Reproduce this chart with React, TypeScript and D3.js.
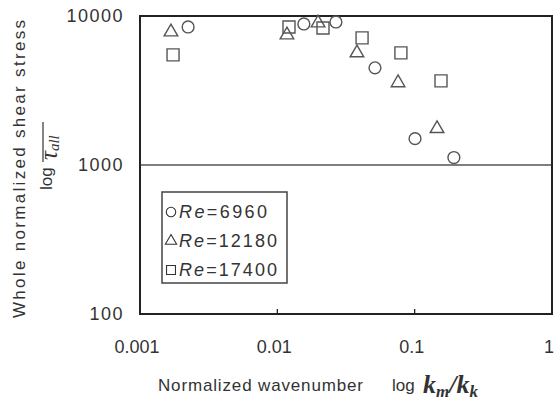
import React from 'react';
import * as d3 from 'd3';

// values (log-log axes)
const re6960X = [0.00224, 0.0156, 0.0267, 0.0514, 0.1006, 0.193];
const re6960Y = [8440, 8840, 9120, 4490, 1503, 1122];

const re12180X = [0.00168, 0.01175, 0.0198, 0.038, 0.0757, 0.1455];
const re12180Y = [7820, 7460, 8980, 5655, 3563, 1754];

const re17400X = [0.00174, 0.01216, 0.0215, 0.0414, 0.0794, 0.1555];
const re17400Y = [5483, 8440, 8310, 7130, 5655, 3672];

const xTicks = [0.001, 0.01, 0.1, 1];
const xTickLabels = ['0.001', '0.01', '0.1', '1'];
const yTicks = [100, 1000, 10000];
const yTickLabels = ['100', '1000', '10000'];
const legendLabels = ['6960', '12180', '17400'];

const W = 554, H = 408;
const left = 140, right = 552, top = 16, bottom = 314;
const ink = '#333';
const markInk = '#555';

const App = () => {
  const x = d3.scaleLog().domain([0.001, 1]).range([left, right]);
  const y = d3.scaleLog().domain([100, 10000]).range([bottom, top]);

  const circle = d3.symbol().type(d3.symbolCircle).size(110)();
  const tri = d3.symbol().type(d3.symbolTriangle).size(80)();
  const square = d3.symbol().type(d3.symbolSquare).size(144)();

  const series = [
    { xs: re6960X, ys: re6960Y, path: circle },
    { xs: re12180X, ys: re12180Y, path: tri },
    { xs: re17400X, ys: re17400Y, path: square },
  ];

  const legendSym = [
    d3.symbol().type(d3.symbolCircle).size(70)(),
    d3.symbol().type(d3.symbolTriangle).size(55)(),
    d3.symbol().type(d3.symbolSquare).size(80)(),
  ];
  const legendWidths = [88, 98, 98];

  const font = '"Liberation Sans", Arial, sans-serif';
  const serif = '"Liberation Serif", "Times New Roman", serif';

  return (
    <svg width={W} height={H} style={{ position: 'absolute', left: 0, top: 0, background: '#fff' }}>
      {/* gridline at 1000 */}
      <line x1={left} x2={right} y1={y(1000)} y2={y(1000)} stroke={markInk} strokeWidth={1.5} />

      {/* inner ticks on the bottom axis */}
      {xTicks.slice(1, 3).map(t => (
        <line key={t} x1={x(t)} x2={x(t)} y1={bottom} y2={bottom - 5} stroke="#222" strokeWidth={1.3} />
      ))}

      {/* frame */}
      <rect x={left} y={top} width={right - left} height={bottom - top} fill="none" stroke="#222" strokeWidth={2} />

      {/* data markers */}
      {series.map((s, si) =>
        s.xs.map((v, i) => (
          <path key={si + '-' + i} d={s.path}
            transform={`translate(${x(v)},${y(s.ys[i])})`}
            fill="none" stroke={markInk} strokeWidth={1.4} />
        ))
      )}

      {/* y tick labels */}
      {yTicks.map((t, i) => (
        <text key={t} x={left - 16} y={y(t)} dy="0.35em" textAnchor="end"
          fontFamily={font} fontSize={18} fill={ink} letterSpacing={1.5}>{yTickLabels[i]}</text>
      ))}

      {/* x tick labels */}
      {xTicks.map((t, i) => (
        <text key={t} x={x(t) - 3} y={353} textAnchor="middle"
          fontFamily={font} fontSize={18} fill={ink}>{xTickLabels[i]}</text>
      ))}

      {/* legend */}
      <rect x={162} y={192} width={125} height={91} fill="#fff" stroke="#444" strokeWidth={1.5} />
      {legendLabels.map((lab, i) => (
        <g key={lab} transform={`translate(0,${212 + i * 29})`}>
          <path d={legendSym[i]} transform="translate(171,0)" fill="none" stroke={ink} strokeWidth={1.1} />
          <text x={179} y={0} dy="0.35em" fontFamily={font} fontSize={18} fill={ink}
            textLength={legendWidths[i]} lengthAdjust="spacing">
            <tspan fontStyle="italic">Re</tspan>={lab}
          </text>
        </g>
      ))}

      {/* x axis title */}
      <text x={158} y={391} fontFamily={font} fontSize={17} fill={ink} textLength={205} lengthAdjust="spacing">Normalized wavenumber</text>
      <text x={392} y={391} fontFamily={font} fontSize={17} fill={ink}>log</text>
      <text x={423} y={393} fontFamily={serif} fontSize={26} fontStyle="italic" fontWeight="bold" fill={ink}>
        k<tspan fontSize={17} dy={4}>m</tspan><tspan dy={-4}>/k</tspan><tspan fontSize={17} dy={4}>k</tspan>
      </text>

      {/* y axis title */}
      <g transform="translate(25,318) rotate(-90)">
        <text x={0} y={0} fontFamily={font} fontSize={17} fill={ink} textLength={298} lengthAdjust="spacing">Whole normalized shear stress</text>
      </g>
      <g transform="translate(52,190) rotate(-90)">
        <text x={0} y={0} fontFamily={font} fontSize={17} fill={ink}>log</text>
        <text x={30} y={5} fontFamily={serif} fontSize={25} fontStyle="italic" fill={ink}>
          τ<tspan fontSize={15} dy={2}>all</tspan>
        </text>
        <line x1={28} x2={68} y1={-9} y2={-9} stroke={ink} strokeWidth={1.2} />
      </g>
    </svg>
  );
};

export default App;
